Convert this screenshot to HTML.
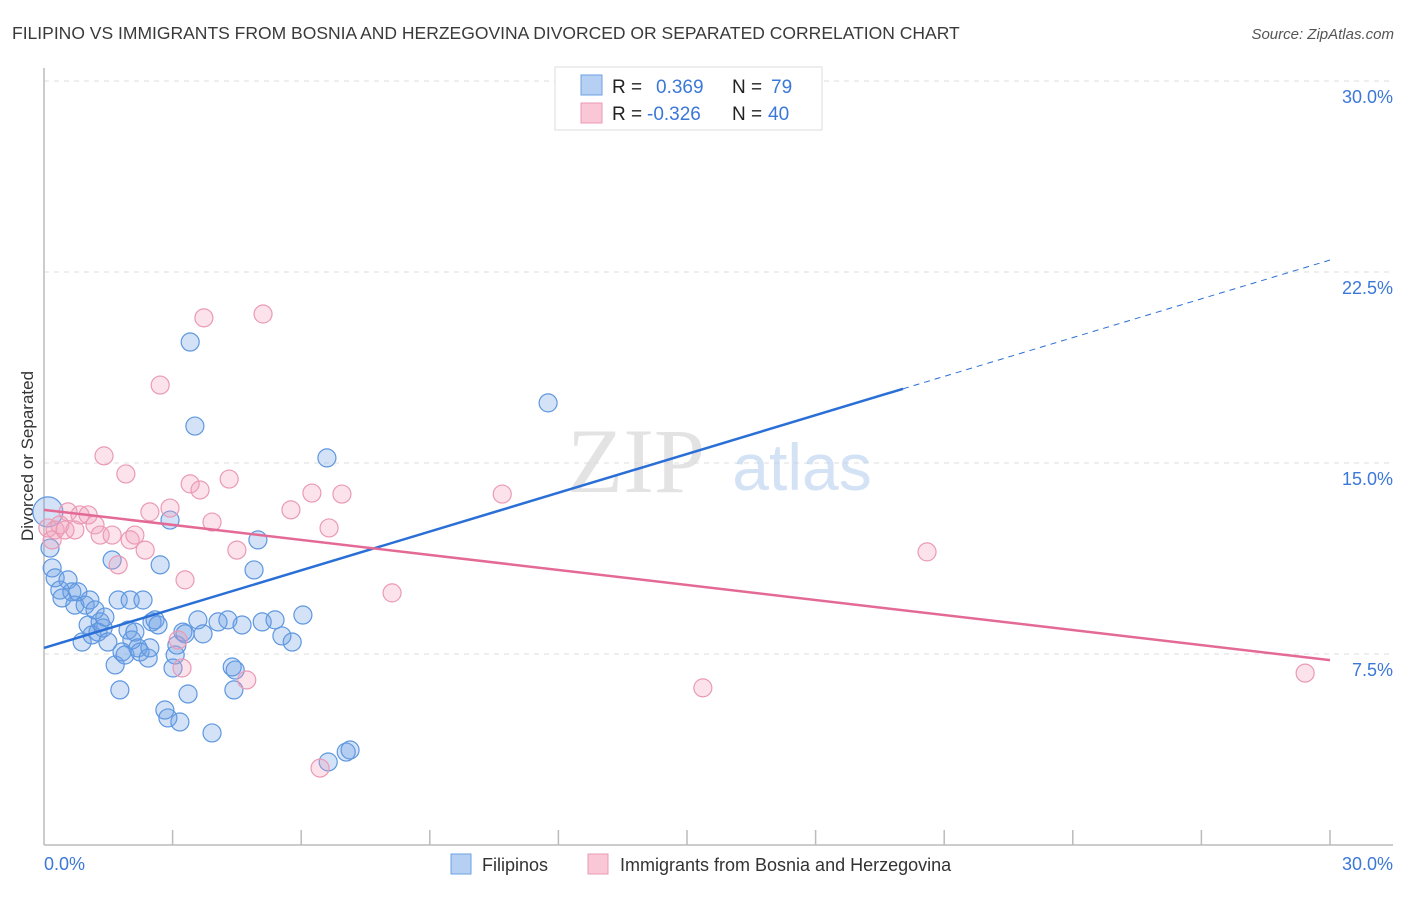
<!DOCTYPE html>
<html><head><meta charset="utf-8"><style>
body{margin:0;background:#fff;width:1406px;height:892px;overflow:hidden;font-family:"Liberation Sans",sans-serif}
</style></head><body>
<svg id="chart" width="1406" height="892" xmlns="http://www.w3.org/2000/svg" font-family="Liberation Sans, sans-serif">
<text x="12" y="39" font-size="17.5" fill="#3a3a3a">FILIPINO VS IMMIGRANTS FROM BOSNIA AND HERZEGOVINA DIVORCED OR SEPARATED CORRELATION CHART</text>
<text x="1394" y="39" font-size="15" fill="#555" text-anchor="end" font-style="italic">Source: ZipAtlas.com</text>
<g id="grid"></g>
<g>
<text x="636" y="492" font-size="92" fill="#d8d8d8" font-family="Liberation Serif, serif" text-anchor="middle" opacity="0.7">ZIP</text>
<text x="802" y="490" font-size="66" fill="#b8cff0" text-anchor="middle" opacity="0.6">atlas</text>
</g>
<line x1="44" y1="68" x2="44" y2="845" stroke="#bbb" stroke-width="1.5"/>
<line x1="44" y1="845" x2="1393" y2="845" stroke="#bbb" stroke-width="1.5"/>
<g id="ticks"></g>
<text transform="translate(33,456) rotate(-90)" font-size="17" fill="#333" text-anchor="middle">Divorced or Separated</text>
<text x="44" y="870" font-size="18" fill="#3b78d8">0.0%</text>
<text x="1393" y="870" font-size="18" fill="#3b78d8" text-anchor="end">30.0%</text>
<g id="pts"></g>
<g id="lines"></g>
<g>
<rect x="555" y="67" width="267" height="63" fill="#fff" stroke="#ddd"/>
<rect x="581" y="75" width="21" height="20" fill="#b6d0f3" stroke="#6ea1e3"/>
<rect x="581" y="103" width="21" height="20" fill="#f9c7d6" stroke="#eb9ab4"/>
<text x="612" y="93" font-size="19" fill="#222">R =</text>
<text x="656" y="93" font-size="19" fill="#3b78d8">0.369</text>
<text x="732" y="93" font-size="19" fill="#222">N =</text>
<text x="771" y="93" font-size="19" fill="#3b78d8">79</text>
<text x="612" y="120" font-size="19" fill="#222">R =</text>
<text x="647" y="120" font-size="19" fill="#3b78d8">-0.326</text>
<text x="732" y="120" font-size="19" fill="#222">N =</text>
<text x="768" y="120" font-size="19" fill="#3b78d8">40</text>
</g>
<g>
<rect x="451" y="854" width="20" height="20" fill="#b6d0f3" stroke="#6ea1e3"/>
<text x="482" y="871" font-size="18" fill="#333">Filipinos</text>
<rect x="588" y="854" width="20" height="20" fill="#f9c7d6" stroke="#eb9ab4"/>
<text x="620" y="871" font-size="18" fill="#333">Immigrants from Bosnia and Herzegovina</text>
</g>
</svg>
<script>
const yTicks=[7.5,15,22.5,30];
const yTickLabels=["7.5%","15.0%","22.5%","30.0%"];
const blueX=[0.09,0.14,0.19,0.26,0.37,0.42,0.56,0.65,0.72,0.79,0.89,0.96,1.03,1.07,1.19,1.12,1.26,1.31,1.38,1.42,1.49,1.59,1.66,1.73,1.77,1.82,1.89,1.96,2.01,2.05,2.12,2.19,2.24,2.31,2.43,2.47,2.52,2.59,2.66,2.71,2.82,2.89,2.94,3.01,3.06,3.10,3.17,3.24,3.29,3.36,3.41,3.52,3.59,3.71,3.92,4.06,4.29,4.39,4.43,4.46,4.62,4.90,4.99,5.09,5.39,5.55,5.79,6.04,6.60,6.63,7.05,7.14,11.76,16.68];
const blueY=[13.08,11.66,10.88,10.49,10.01,9.70,10.41,9.94,9.42,9.94,7.97,9.42,8.64,9.62,9.23,8.25,8.36,8.76,8.52,8.95,7.97,11.19,7.07,9.62,6.09,7.58,7.46,8.44,9.62,8.05,8.36,7.74,7.58,9.62,7.34,7.74,8.76,8.84,8.64,11.0,5.30,4.99,12.76,6.95,7.46,7.85,4.83,8.36,8.29,5.93,19.75,16.45,8.84,8.29,4.40,8.76,8.84,6.99,6.09,6.87,8.64,10.80,11.98,8.76,8.84,8.21,7.97,9.03,15.20,3.26,3.65,3.73,17.36,29.33];
const pinkX=[0.09,0.19,0.26,0.37,0.49,0.56,0.72,0.84,1.03,1.19,1.31,1.40,1.59,1.73,1.91,2.01,2.12,2.36,2.47,2.71,2.94,3.13,3.22,3.29,3.41,3.64,3.73,3.92,4.32,4.50,4.73,5.11,5.76,6.25,6.44,6.65,6.95,8.12,10.69,15.37,20.60,29.42];
const pinkY=[12.45,11.98,12.37,12.57,12.37,13.08,12.37,12.96,12.96,12.57,12.17,15.28,12.17,11.0,14.57,11.98,12.17,11.58,13.08,18.06,13.23,8.05,6.95,10.41,14.18,13.94,20.70,12.68,14.37,11.58,6.48,20.85,13.16,13.82,3.02,12.45,13.78,9.90,13.78,6.17,11.51,6.75];
const blueTrend=[7.74,22.97]; // y at x=0 and x=30
const blueSolidEnd=20.04;
const pinkTrend=[13.16,7.26];
const NS="http://www.w3.org/2000/svg";
const sx=v=>44+v/30*1286;
const sy=v=>845-v/7.5*191;
function mk(tag,attrs,parent){const e=document.createElementNS(NS,tag);for(const k in attrs)e.setAttribute(k,attrs[k]);parent.appendChild(e);return e;}
const grid=document.getElementById('grid');
yTicks.forEach((t,i)=>{
 const l=mk('line',{x1:44,x2:1393,y1:sy(t),y2:sy(t),stroke:'#ddd','stroke-dasharray':'5,5'},grid);
 
 
 const tx=mk('text',{x:1393,y:sy(t)+22,'font-size':18,fill:'#3b78d8','text-anchor':'end'},grid);
 tx.textContent=yTickLabels[i];
 
 
});
const ticks=document.getElementById('ticks');
for(let i=1;i<=10;i++){const l=mk('line',{x1:sx(i*3),x2:sx(i*3),y1:830,y2:845,stroke:'#bbb','stroke-width':1.5},ticks);
 
 }
const pts=document.getElementById('pts');
blueX.forEach((x,i)=>{const c=mk('circle',{cx:sx(x),cy:sy(blueY[i]),r:i===0?15:9,fill:'rgba(110,160,228,0.3)',stroke:'#5e97e0','stroke-width':1.2},pts);
 
 });
pinkX.forEach((x,i)=>{const c=mk('circle',{cx:sx(x),cy:sy(pinkY[i]),r:9,fill:'rgba(242,160,188,0.3)',stroke:'#ea9ab5','stroke-width':1.2},pts);
 
 });
const lines=document.getElementById('lines');
const by=x=>blueTrend[0]+(blueTrend[1]-blueTrend[0])*x/30;
let b1=mk('line',{x1:sx(0),y1:sy(by(0)),x2:sx(blueSolidEnd),y2:sy(by(blueSolidEnd)),stroke:'#2a6fd6','stroke-width':2.5},lines);


let b2=mk('line',{x1:sx(blueSolidEnd),y1:sy(by(blueSolidEnd)),x2:sx(30),y2:sy(by(30)),stroke:'#2a6fd6','stroke-width':1,'stroke-dasharray':'6,5'},lines);


let p1=mk('line',{x1:sx(0),y1:sy(pinkTrend[0]),x2:sx(30),y2:sy(pinkTrend[1]),stroke:'#e46a96','stroke-width':2.5},lines);


</script>
</body></html>
